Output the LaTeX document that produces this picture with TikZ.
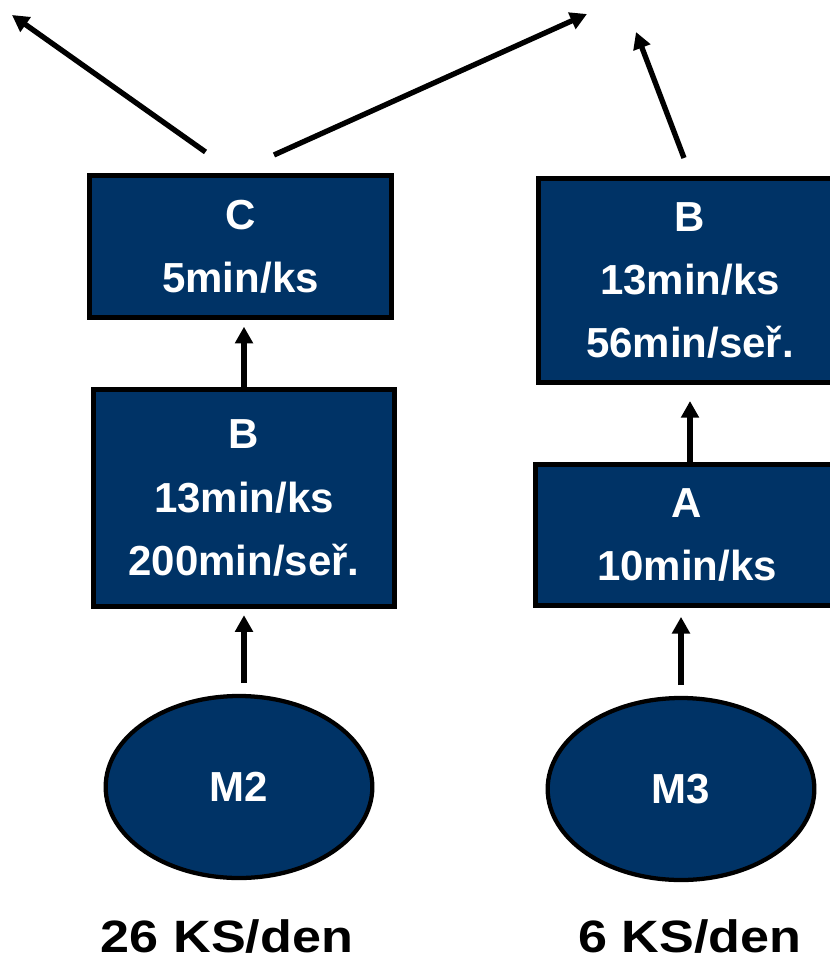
\documentclass[tikz,border=0pt]{standalone}
\usepackage{fontspec}
\setmainfont{Liberation Sans}
\usepackage{xcolor}
\usepackage{graphicx}
\usetikzlibrary{shapes.geometric,arrows.meta}
\definecolor{navy}{RGB}{0,51,102}
\begin{document}
\begin{tikzpicture}[x=0.75pt,y=-0.75pt,
  opbox/.style={draw=black,line width=3.8pt,fill=navy,text=white,align=center,inner sep=0pt,
    font=\bfseries\fontsize{31.5}{47.5}\selectfont},
  matnode/.style={ellipse,draw=black,line width=3.2pt,fill=navy,text=white,inner sep=0pt,
    minimum width=200pt,minimum height=136.5pt,font=\bfseries\fontsize{31.5}{38}\selectfont},
  flow/.style={line width=4pt,-{Triangle[length=12.5pt,width=13pt]}},
  daily/.style={anchor=base,font=\bfseries\fontsize{34}{40}\selectfont}]
\useasboundingbox (0,0) rectangle (829,959);
% left line
\node [opbox,minimum width=226.5pt,minimum height=106.5pt] (C) at (240.5,246.5) {C\\5min/ks};
\node [opbox,minimum width=226pt,minimum height=163pt] (Bl) at (244,498) {B\\13min/ks\\200min/seř.};
\node [matnode] (M2) at (239,787) {M2};
\node [daily] (den2) at (227,952) {\scalebox{1.15}[1]{26 KS/den}};
% right line
\node [opbox,minimum width=227.5pt,minimum height=153pt] (Br) at (690,280.5) {B\\13min/ks\\56min/seř.};
\node [opbox,minimum width=227.5pt,minimum height=106pt] (A) at (687,535) {A\\10min/ks};
\node [matnode] (M3) at (681,789) {M3};
\node [daily] (den3) at (690,952) {\scalebox{1.15}[1]{6 KS/den}};
% outputs
\coordinate (outL) at (12,15);
\coordinate (outM) at (587,14);
\coordinate (outR) at (636,32);
\draw [flow,shorten <=8pt,shorten >=4.5pt] (Bl.south |- M2.north) -- (Bl.south);
\draw [flow,shorten >=5pt] (Bl.north) -- (Bl.north |- C.south);
\draw [flow,shorten <=8pt,shorten >=6.5pt] (M3.north) -- (M3.north |- A.south);
\draw [flow,shorten >=12pt] (A.north -| Br.south) -- (Br.south);
\draw [flow] ([shift={(-35,-21)}]C.north) -- (outL);
\draw [flow] ([shift={(33.5,-18)}]C.north) -- (outM);
\draw [flow] ([shift={(-6,-18)}]Br.north) -- (outR);
\end{tikzpicture}
\end{document}
